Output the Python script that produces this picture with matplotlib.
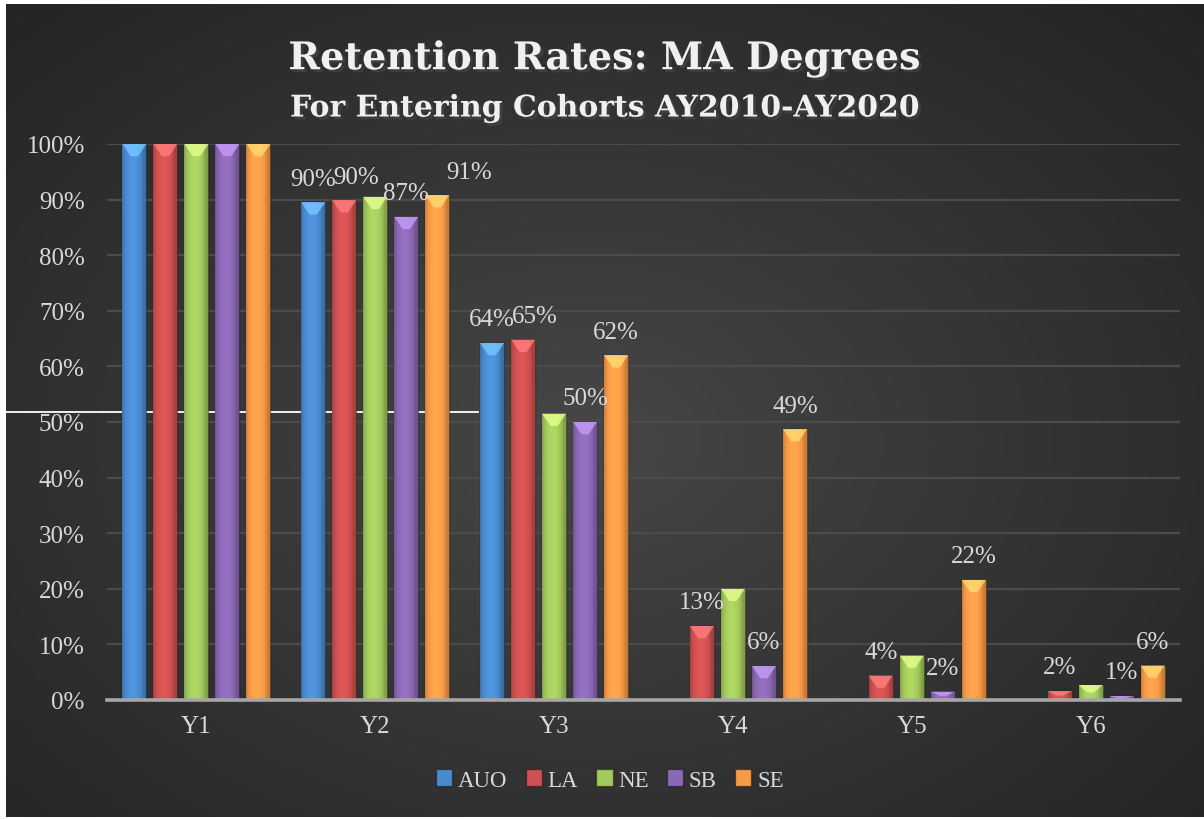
import numpy as np
import matplotlib
matplotlib.use('Agg')
import matplotlib.pyplot as plt
import matplotlib.colors as mcolors
from matplotlib.patches import Patch, Polygon
from matplotlib.lines import Line2D
import matplotlib.patheffects as pe

categories = ['Y1', 'Y2', 'Y3', 'Y4', 'Y5', 'Y6']
series = ['AUO', 'LA', 'NE', 'SB', 'SE']
auo = [1.00, 0.895, 0.642, 0.0, 0.0, 0.0]
la = [1.00, 0.899, 0.648, 0.133, 0.044, 0.016]
ne = [1.00, 0.905, 0.515, 0.200, 0.080, 0.027]
sb = [1.00, 0.869, 0.500, 0.061, 0.015, 0.007]
se = [1.00, 0.908, 0.620, 0.487, 0.216, 0.062]
values = [auo, la, ne, sb, se]
colors = ['#4a8bd0', '#cf5050', '#a3c95c', '#8b68b4', '#f99a47']

# which bars carry a data label (series index, category index)
labelled = [(0, 1), (1, 1), (3, 1), (4, 1),
            (0, 2), (1, 2), (3, 2), (4, 2),
            (1, 3), (3, 3), (4, 3),
            (1, 4), (3, 4), (4, 4),
            (1, 5), (3, 5), (4, 5)]
# small horizontal nudges (px) Excel applied to avoid overlaps
nudge = {(1, 1): 12, (4, 1): 32, (1, 2): 12}

W, H = 1204, 820
fig = plt.figure(figsize=(W / 100, H / 100), dpi=100, facecolor='white')

# dark radial gradient background
bg = fig.add_axes([6 / W, 2 / H, 1198 / W, 813 / H], zorder=-2)
yy, xx = np.mgrid[0:400, 0:600]
cx, cy = 290, 215
r = np.sqrt(((xx - cx) / 600.0) ** 2 + ((yy - cy) / 420.0) ** 2)
r = np.clip(r / 0.75, 0, 1)
lo, hi = 0x22 / 255, 0x48 / 255
shade = hi - (hi - lo) * r ** 0.9
img = np.dstack([shade, shade, shade])
bg.imshow(img, aspect='auto', extent=[0, 1, 0, 1], interpolation='bicubic')
bg.set_axis_off()

# stray white line seen in the source image
fig.add_artist(Line2D([6 / W, 478 / W], [1 - 413 / H, 1 - 413 / H],
                      transform=fig.transFigure, color='white', lw=1.3, zorder=-1))

ax = fig.add_axes([107 / W, (H - 701) / H, (1180 - 107) / W, (701 - 145) / H])
ax.set_facecolor('none')

slot = 0.1734
width = 0.134
x = np.arange(len(categories))


def shaded(color, n=40):
    base = np.array(mcolors.to_rgb(color))
    u = np.linspace(0, 1, n)
    f = 0.80 + 0.28 * np.sin(np.pi * np.clip(u * 1.1, 0, 1)) ** 0.6
    rgb = np.clip(base[None, :] * f[:, None], 0, 1)
    return rgb[None, :, :]


for j, (name, vals) in enumerate(zip(series, values)):
    pos = x + (j - 2) * slot
    for i, v in enumerate(vals):
        if v <= 0:
            continue
        b = ax.bar(pos[i], v, width=width, color=colors[j], zorder=3,
                   edgecolor=mcolors.to_rgba('black', 0.35), linewidth=1.0)[0]
        x0, x1 = b.get_x(), b.get_x() + b.get_width()
        im = ax.imshow(shaded(colors[j]), extent=[x0, x1, 0, v], aspect='auto',
                       zorder=3.5, interpolation='bilinear')
        im.set_clip_path(b)
        cap = min(0.022, v * 0.5)
        light = tuple(np.clip(np.array(mcolors.to_rgb(colors[j])) * 1.25 + 0.1, 0, 1))
        ax.add_patch(Polygon([[x0, v], [x1, v], [x1 - width * 0.35, v - cap],
                              [x0 + width * 0.35, v - cap]],
                             closed=True, facecolor=light, edgecolor='none',
                             alpha=0.8, zorder=4))
        if (j, i) in labelled:
            dx = nudge.get((j, i), 0) * 0.72
            ax.annotate('{:.0f}%'.format(v * 100), (pos[i], v),
                        xytext=(dx, 17), textcoords='offset points',
                        ha='center', va='center', fontsize=18,
                        family='Liberation Serif', color='#d9d9d9', zorder=6)

ax.set_xlim(-0.5, len(categories) - 0.5)
ax.set_ylim(0, 1.0)
ax.set_yticks(np.arange(0, 1.01, 0.1))
ax.set_yticklabels(['{:.0f}%'.format(t * 100) for t in np.arange(0, 1.01, 0.1)])
ax.set_xticks(x)
ax.set_xticklabels(categories)
ax.yaxis.grid(True, color='#4b4b4b', linewidth=1.6, zorder=0)
ax.set_axisbelow(True)
for s in ['top', 'right', 'left']:
    ax.spines[s].set_visible(False)
ax.spines['bottom'].set_color('#a6a6a6')
ax.spines['bottom'].set_linewidth(2.6)
ax.spines['bottom'].set_zorder(5)
ax.tick_params(axis='both', length=0, labelcolor='#d9d9d9', labelsize=18)
ax.tick_params(axis='y', pad=16)
ax.tick_params(axis='x', pad=11)
for lab in ax.get_xticklabels() + ax.get_yticklabels():
    lab.set_family('Liberation Serif')

title_fx = [pe.SimplePatchShadow(offset=(2, -2), alpha=0.6), pe.Normal()]
fig.text(605 / W, 1 - 60 / H, 'Retention Rates: MA Degrees', ha='center', va='center',
         fontsize=27.5, fontweight='bold', family='DejaVu Serif', color='#f0f0f0',
         path_effects=title_fx)
fig.text(605 / W, 1 - 109 / H, 'For Entering Cohorts AY2010-AY2020', ha='center',
         va='center', fontsize=21.5, fontweight='bold', family='DejaVu Serif',
         color='#f0f0f0', path_effects=title_fx)

handles = [Patch(facecolor=c, edgecolor=mcolors.to_rgba('black', 0.4)) for c in colors]
leg = fig.legend(handles, series, loc='center', bbox_to_anchor=(610 / W, 1 - 781 / H),
                 ncol=5, frameon=False, handlelength=0.7, handleheight=0.7,
                 handletextpad=0.25, columnspacing=0.8,
                 prop={'family': 'Liberation Serif', 'size': 16.5})
for t in leg.get_texts():
    t.set_color('#d9d9d9')

fig.savefig('out.png', dpi=100, facecolor='white')
